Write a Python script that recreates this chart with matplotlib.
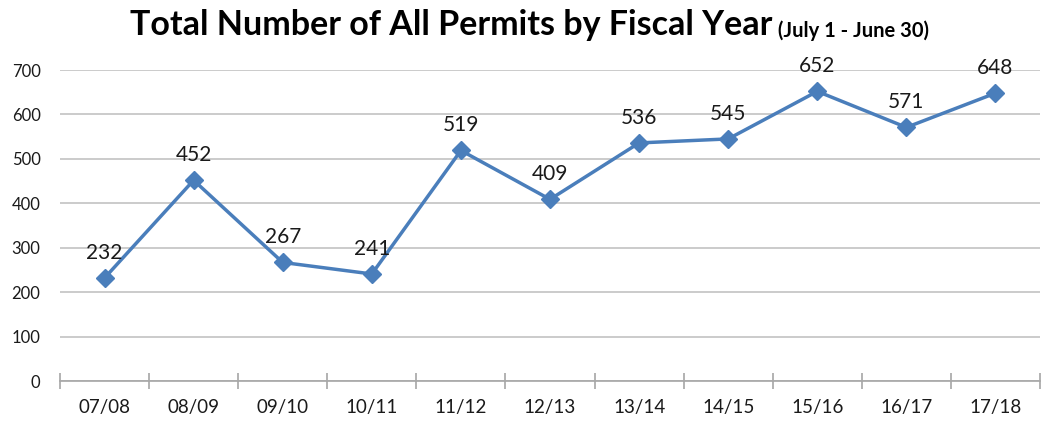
import matplotlib.pyplot as plt

years = ["07/08", "08/09", "09/10", "10/11", "11/12", "12/13",
         "13/14", "14/15", "15/16", "16/17", "17/18"]
permits = [232, 452, 267, 241, 519, 409, 536, 545, 652, 571, 648]
y_ticks = [0, 100, 200, 300, 400, 500, 600, 700]

plt.rcParams['font.family'] = ['Lato', 'DejaVu Sans']

fig = plt.figure(figsize=(10.58, 4.22), dpi=100)
ax = fig.add_axes([0.0567, 0.097, 0.9263, 0.737])

x = list(range(len(years)))
ax.plot(x, permits, color='#4A7EBB', linewidth=2.5, marker='D',
        markersize=9.5, zorder=3)

for xi, v in zip(x, permits):
    ax.annotate(str(v), (xi, v), xytext=(0, 11), textcoords='offset points',
                ha='center', va='bottom', fontsize=15, color='#1a1a1a',
                annotation_clip=False)

ax.set_xlim(-0.5, len(years) - 0.5)
ax.set_ylim(0, 700)
ax.set_yticks(y_ticks)
ax.grid(axis='y', color='#BDBDBD', linewidth=1.1)
ax.set_axisbelow(True)

for side in ['left', 'right', 'top']:
    ax.spines[side].set_visible(False)
ax.spines['bottom'].set_color('#A6A6A6')
ax.spines['bottom'].set_linewidth(1.2)

# category boundary ticks crossing the x axis
ax.set_xticks([i - 0.5 for i in range(len(years) + 1)], minor=False)
ax.set_xticklabels([])
ax.set_xticks(x, minor=True)
ax.set_xticklabels(years, minor=True, fontsize=13.5, color='#1a1a1a')
ax.tick_params(axis='x', which='major', direction='inout', length=12,
               color='#A6A6A6', width=1.2)
ax.tick_params(axis='x', which='minor', length=0, pad=13)
ax.tick_params(axis='y', length=0, labelsize=12, labelcolor='#1a1a1a', pad=14)

title = fig.text(0.123, 0.917, "Total Number of All Permits by Fiscal Year",
                 fontsize=24.5, fontweight='bold', ha='left', va='baseline')
ax.annotate(" (July 1 - June 30)", xy=(1, 0), xycoords=title,
            fontsize=14.5, fontweight='bold', ha='left', va='bottom')

fig.savefig("out.png", dpi=100)
